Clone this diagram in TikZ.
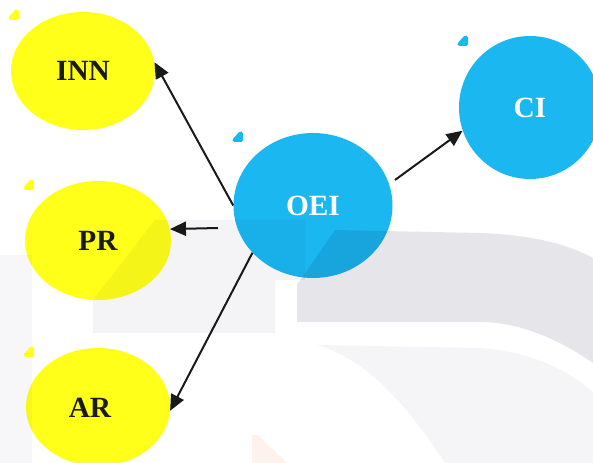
\documentclass[tikz,border=0pt]{standalone}
\usepackage{fontspec}
\setmainfont{Liberation Serif}
\usetikzlibrary{shapes.geometric,arrows.meta}

\definecolor{nodeyellow}{HTML}{FFFF1A}
\definecolor{nodeblue}{HTML}{1BB7F0}
\definecolor{ink}{HTML}{1A1A1A}
\definecolor{shadeA}{HTML}{F4F4F7}
\definecolor{shadeB}{HTML}{E6E5EA}
\definecolor{shadeC}{HTML}{F5F5F8}
\definecolor{shadeD}{HTML}{F7F7F9}
\definecolor{shadeE}{HTML}{FDF3EC}

\tikzset{
  bubble/.style={ellipse, inner sep=0pt, draw=none,
    font=\bfseries\fontsize{22}{26}\selectfont},
  yellowbubble/.style={bubble, fill=nodeyellow, text=ink},
  bluebubble/.style={bubble, fill=nodeblue, text=white},
  link/.style={draw=ink, line width=1.5pt,
    -{Triangle[length=12pt,width=10.5pt]}},
  tickmark/.style={rounded corners=1.2pt},
}

\begin{document}
\begin{tikzpicture}[x=0.75pt,y=-0.75pt]
\useasboundingbox (0,0) rectangle (593,463);
\clip (0,0) rectangle (593,463);
\fill[white] (0,0) rectangle (593,463);

% bubbles
\node[yellowbubble, minimum width=108pt, minimum height=88.5pt] (inn) at (83,71) {INN};
\node[yellowbubble, minimum width=109.5pt, minimum height=89.25pt] (pr) at (98,240.5) {PR};
\node[yellowbubble, minimum width=108pt, minimum height=88.5pt] (ar) at (98,407) {};
\node[font=\bfseries\fontsize{22}{26}\selectfont, text=ink] (arlabel) at (90,408) {AR};
\node[bluebubble, minimum width=119.25pt, minimum height=108.75pt] (oei) at (313,205.5) {OEI};
\node[bluebubble, minimum width=106.5pt, minimum height=107.25pt] (ci) at (530,107.5) {CI};

% connectors
\coordinate (prfrom) at (218,228);
\coordinate (cifrom) at (395,180);
\draw[link] (oei.west) -- (inn.7);
\draw[link] (prfrom) -- (pr.9.7);
\draw[link] (oei.218) -- (ar.-3);
\draw[link] (cifrom) -- (ci.199);

% faint backdrop shapes, multiplied over everything below
\begin{scope}[blend mode=multiply]
  \fill[shadeD] (0,255) rectangle (32,463);
  \fill[shadeA] (155,220) -- (305,220) -- (305,280) -- (275,280)
    -- (275,333) -- (93,333) -- (93,300) -- cycle;
  \fill[shadeB] (297,322) -- (297,285) -- (335,230) -- (480,233)
    .. controls (530,235) and (565,243) .. (593,258) -- (593,363)
    .. controls (560,340) and (520,322) .. (480,322) -- cycle;
  \fill[shadeC] (317,345) -- (480,348)
    .. controls (530,352) and (565,368) .. (593,392) -- (593,463)
    -- (445,463) .. controls (410,410) and (370,360) .. cycle;
  \fill[shadeE] (252,435) -- (258,435) -- (287,463) -- (252,463) -- cycle;
\end{scope}

% small corner marks
\fill[nodeyellow, tickmark, shift={(8,20)}] (0,-2) -- (8,-11) -- (11,-10) -- (11,0) -- (1,0) -- cycle;
\fill[nodeyellow, tickmark, shift={(23,190)}] (0,-2) -- (8,-11) -- (11,-10) -- (11,0) -- (1,0) -- cycle;
\fill[nodeyellow, tickmark, shift={(23,357)}] (0,-2) -- (8,-11) -- (11,-10) -- (11,0) -- (1,0) -- cycle;
\fill[nodeblue, tickmark, shift={(232,142)}] (0,-2) -- (8,-11) -- (11,-10) -- (11,0) -- (1,0) -- cycle;
\fill[nodeblue, tickmark, shift={(457,46)}] (0,-2) -- (8,-11) -- (11,-10) -- (11,0) -- (1,0) -- cycle;
\end{tikzpicture}
\end{document}
